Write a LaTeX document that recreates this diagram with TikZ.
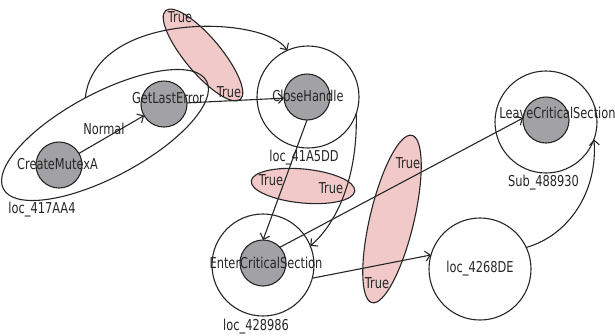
\documentclass[tikz,border=0pt]{standalone}
\usepackage{fontspec}
\setmainfont[FakeStretch=0.76]{DejaVu Sans}
\usetikzlibrary{shapes.geometric,arrows.meta}
\definecolor{edgegray}{HTML}{262626}
\definecolor{fillgray}{HTML}{A2A2A6}
\definecolor{fillpink}{HTML}{F2C9C9}
\begin{document}
\begin{tikzpicture}[x=1pt,y=-1pt,
  every node/.style={inner sep=0pt, outer sep=0pt},
  txt/.style={font=\fontsize{15}{17}\selectfont, text=black!85},
  func/.style={circle, draw=edgegray, fill=fillgray, line width=1.1pt, minimum size=46pt},
  block/.style={circle, draw=edgegray, line width=1.1pt, minimum size=102pt},
  group/.style={ellipse, draw=edgegray, line width=1.1pt},
  cond/.style={ellipse, draw=edgegray, fill=fillpink, line width=1.1pt},
  flow/.style={draw=edgegray, line width=1.1pt, -{Straight Barb[length=5pt,width=10pt]}},
]
\useasboundingbox (0,0) rectangle (615,335);

% condition regions (drawn first, edges pass over them)
\node[cond, rotate=-50, minimum width=116pt, minimum height=36pt] (condA) at (203,55) {};
\node[cond, rotate=-5.5, minimum width=104pt, minimum height=34pt] (condB) at (303,186) {};
\node[cond, rotate=76.6, minimum width=172pt, minimum height=44pt] (condC) at (392,219) {};

% grouped block loc_417AA4
\node[group, rotate=28, minimum width=230pt, minimum height=84pt] (loc417) at (105,135) {};

% basic blocks
\node[block] (loc41) at (308,97) {};
\node[block] (sub48) at (546,122) {};
\node[block] (loc428) at (263,265) {};
\node[block, txt] (loc426) at (480,269) {loc\_4268DE};

% API call nodes
\node[func] (cm) at (59,165) {};
\node[func] (gle) at (164,104) {};
\node[func] (ch) at (307,97) {};
\node[func] (lcs) at (546,120) {};
\node[func] (ecs) at (263,263) {};

% call names
\node[txt] (tcm) at (57.5,164) {CreateMutexA};
\node[txt] (tgle) at (168,98) {GetLastError};
\node[txt] (tch) at (308,96) {CloseHandle};
\node[txt] (tlcs) at (557.5,113) {LeaveCriticalSection};
\node[txt] (tecs) at (266,263) {EnterCriticalSection};

% block names
\node[txt] (n417) at (42,210) {loc\_417AA4};
\node[txt] (n41) at (304,158) {loc\_41A5DD};
\node[txt] (n48) at (543.5,183) {Sub\_488930};
\node[txt] (n428) at (256,327) {loc\_428986};

% flow edges
\draw[flow] (cm) -- (gle);
\node[txt] (lnormal) at (104,129) {Normal};
\draw[flow] (gle) -- (ch);
\draw[flow] (loc417.north) .. controls (95,10) and (265,15) .. (loc41.114);
\draw[flow] (ch.south) -- (ecs.north);
\draw[flow] (loc41.-19) .. controls (358,180) and (335,225) .. (loc428.22);
\draw[flow] (ecs.43) -- (lcs.175);
\draw[flow] (loc428.-15) -- (loc426.164);
\draw[flow] (loc426.25) .. controls (570,235) and (598,190) .. (sub48.-20);

% condition labels
\node[txt] (tA1) at (180,17) {True};
\node[txt] (tA2) at (229,92) {True};
\node[txt] (tB1) at (271,180) {True};
\node[txt] (tB2) at (331,188) {True};
\node[txt] (tC1) at (408,163) {True};
\node[txt] (tC2) at (377,283) {True};
\end{tikzpicture}
\end{document}
